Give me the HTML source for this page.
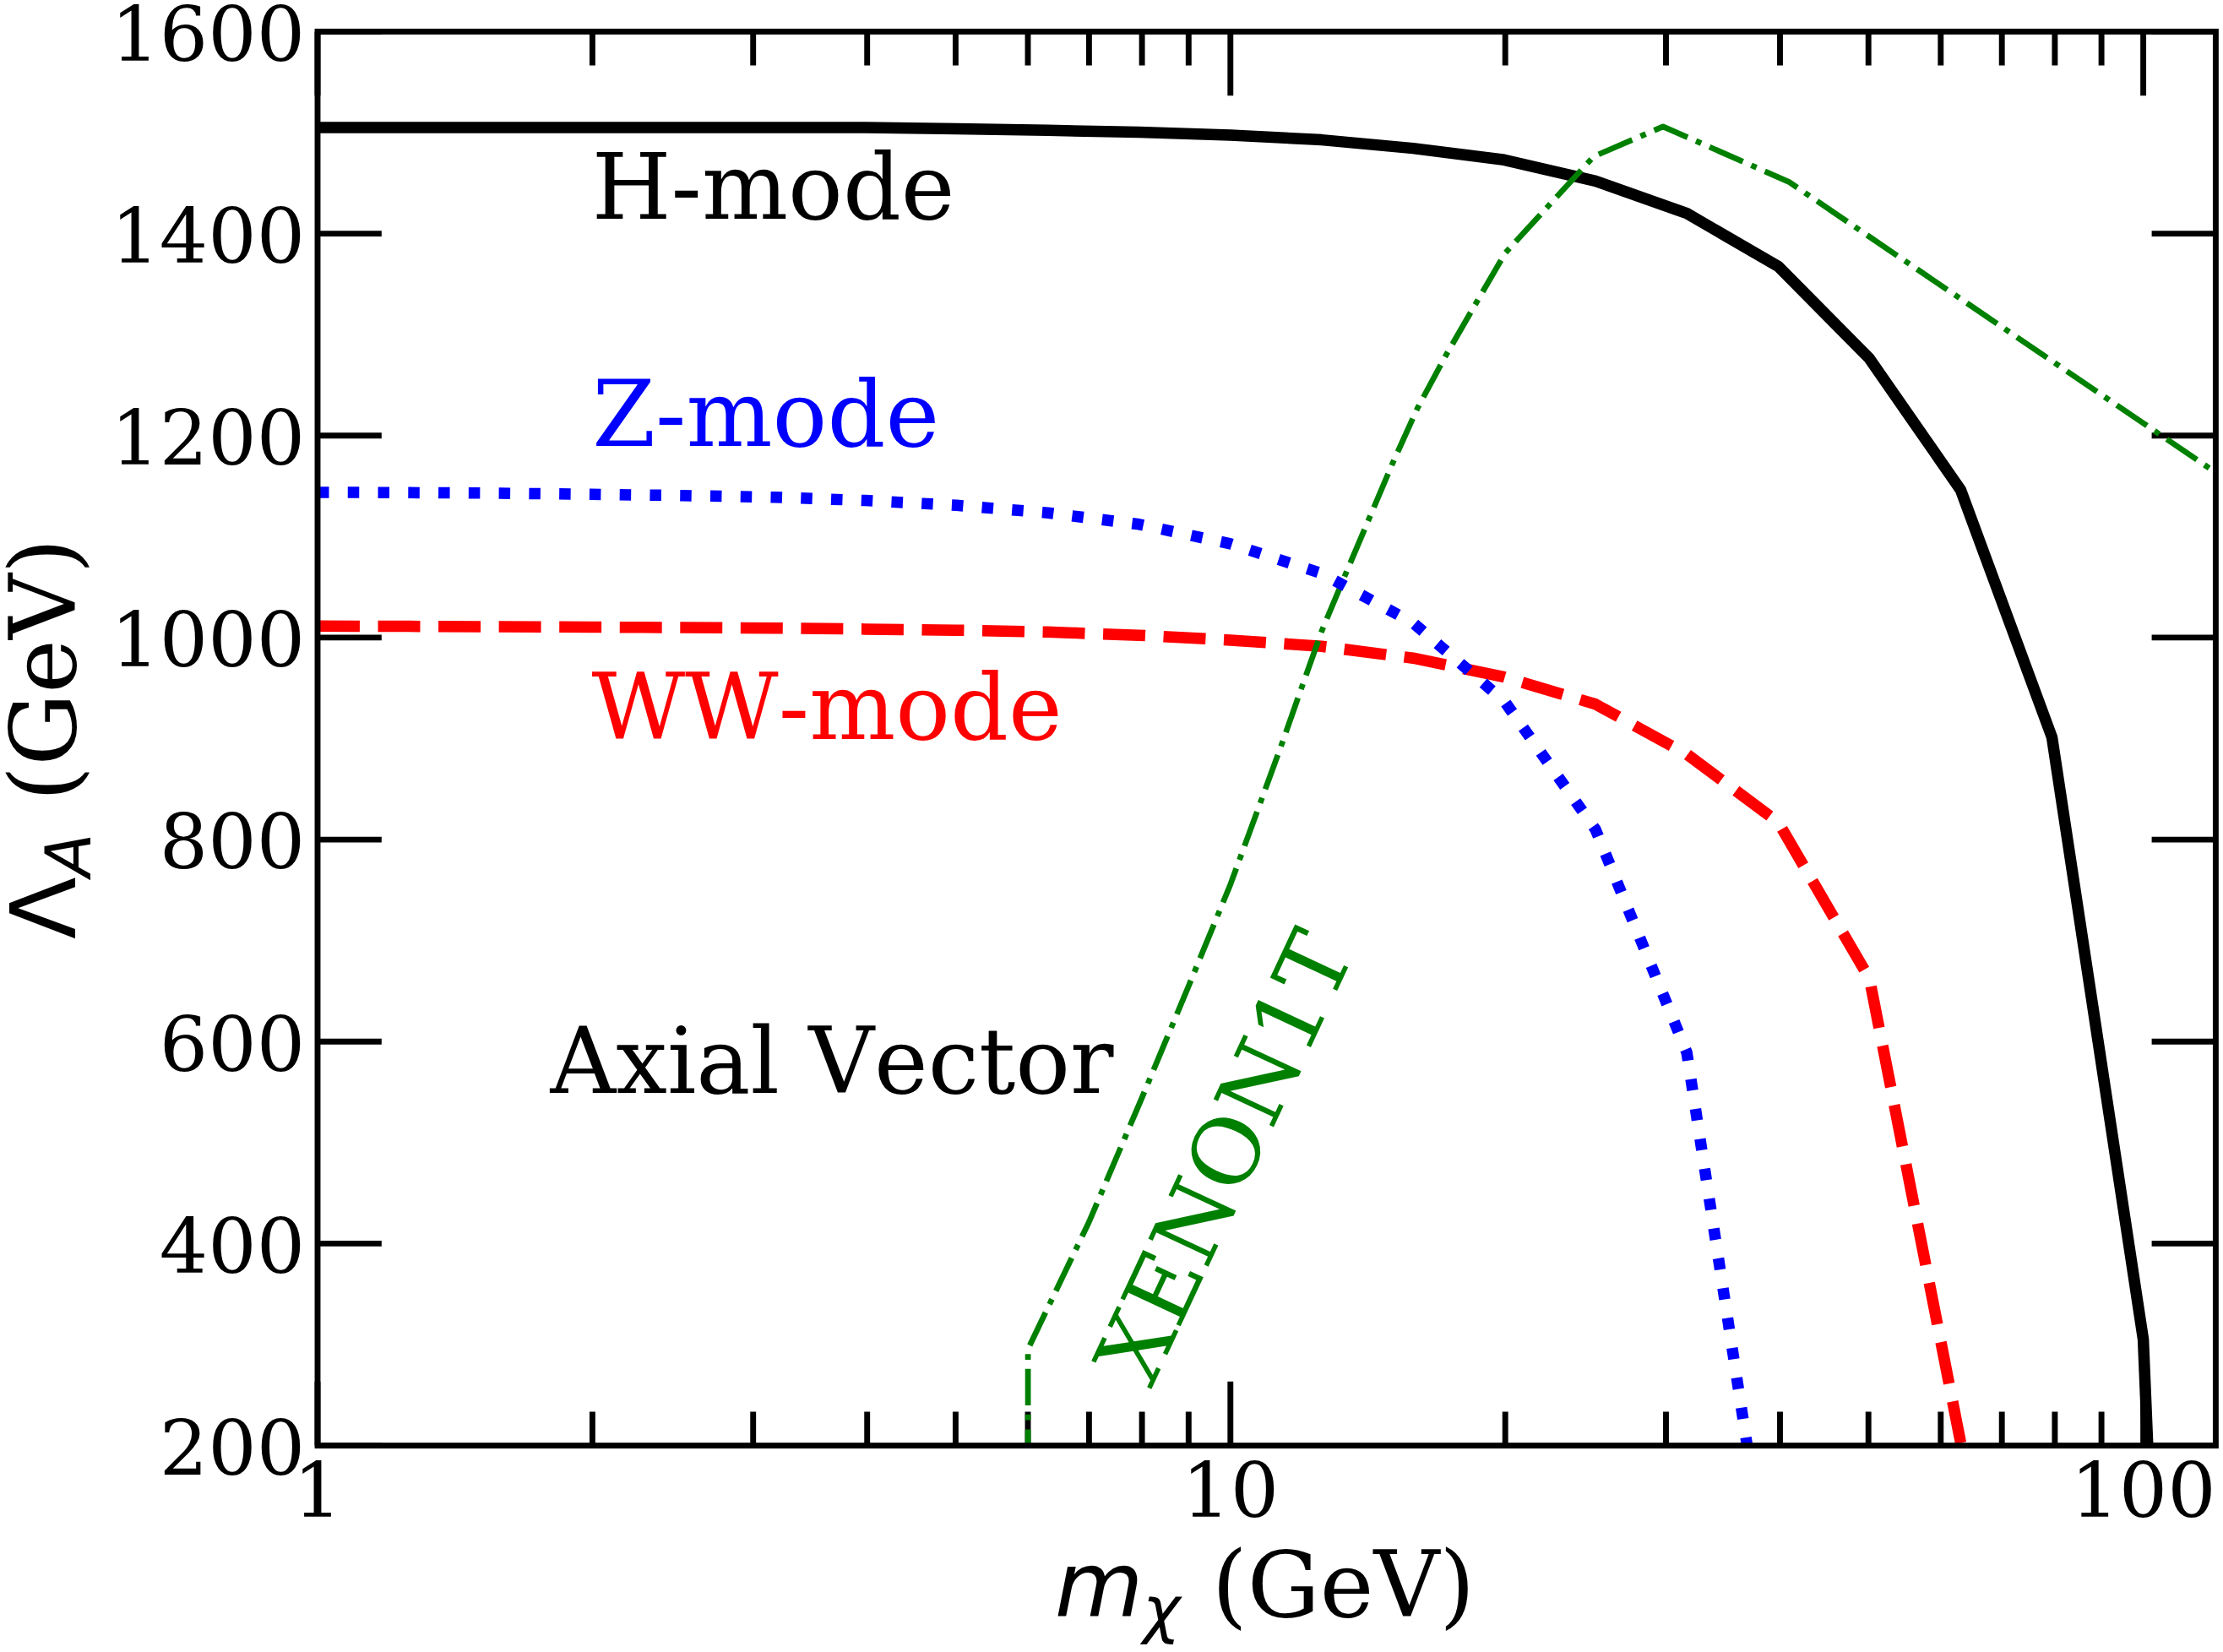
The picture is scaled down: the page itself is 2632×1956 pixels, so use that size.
<!DOCTYPE html>
<html><head><meta charset="utf-8"><title>Axial Vector</title>
<style>html,body{margin:0;padding:0;background:#fff;width:2632px;height:1956px;overflow:hidden}svg{display:block}text{font-family:"DejaVu Serif","Liberation Serif",serif;}text{font-kerning:none}.tk{font-size:90.3px}.lb{font-size:107.7px}.mi{font-family:"DejaVu Sans","Liberation Sans",sans-serif;font-style:italic}.ms{font-family:"DejaVu Sans","Liberation Sans",sans-serif}</style></head><body>
<svg width="2632" height="1956" viewBox="0 0 2632 1956">
<rect width="2632" height="1956" fill="#fff"/>
<defs><clipPath id="ax"><rect x="376.0" y="37.4" width="2247.4" height="1674.2"/></clipPath></defs>
<g stroke="#000" stroke-width="6.90" fill="none">
<path d="M376.0 1711.6V1635.8M376.0 37.4V113.2"/>
<path d="M1456.8 1711.6V1635.8M1456.8 37.4V113.2"/>
<path d="M2537.6 1711.6V1635.8M2537.6 37.4V113.2"/>
<path d="M701.4 1711.6V1671.4M701.4 37.4V77.6"/>
<path d="M891.7 1711.6V1671.4M891.7 37.4V77.6"/>
<path d="M1026.7 1711.6V1671.4M1026.7 37.4V77.6"/>
<path d="M1131.4 1711.6V1671.4M1131.4 37.4V77.6"/>
<path d="M1217.0 1711.6V1671.4M1217.0 37.4V77.6"/>
<path d="M1289.4 1711.6V1671.4M1289.4 37.4V77.6"/>
<path d="M1352.1 1711.6V1671.4M1352.1 37.4V77.6"/>
<path d="M1407.3 1711.6V1671.4M1407.3 37.4V77.6"/>
<path d="M1782.2 1711.6V1671.4M1782.2 37.4V77.6"/>
<path d="M1972.5 1711.6V1671.4M1972.5 37.4V77.6"/>
<path d="M2107.5 1711.6V1671.4M2107.5 37.4V77.6"/>
<path d="M2212.2 1711.6V1671.4M2212.2 37.4V77.6"/>
<path d="M2297.8 1711.6V1671.4M2297.8 37.4V77.6"/>
<path d="M2370.2 1711.6V1671.4M2370.2 37.4V77.6"/>
<path d="M2432.9 1711.6V1671.4M2432.9 37.4V77.6"/>
<path d="M2488.1 1711.6V1671.4M2488.1 37.4V77.6"/>
<path d="M376.0 1711.6H451.8M2623.4 1711.6H2547.6"/>
<path d="M376.0 1472.4H451.8M2623.4 1472.4H2547.6"/>
<path d="M376.0 1233.3H451.8M2623.4 1233.3H2547.6"/>
<path d="M376.0 994.1H451.8M2623.4 994.1H2547.6"/>
<path d="M376.0 754.9H451.8M2623.4 754.9H2547.6"/>
<path d="M376.0 515.7H451.8M2623.4 515.7H2547.6"/>
<path d="M376.0 276.6H451.8M2623.4 276.6H2547.6"/>
<path d="M376.0 37.4H451.8M2623.4 37.4H2547.6"/>
</g>
<text class="tk" x="361.1" y="1745.8" text-anchor="end">200</text>
<text class="tk" x="361.1" y="1506.6" text-anchor="end">400</text>
<text class="tk" x="361.1" y="1267.5" text-anchor="end">600</text>
<text class="tk" x="361.1" y="1028.3" text-anchor="end">800</text>
<text class="tk" x="361.1" y="789.1" text-anchor="end">1000</text>
<text class="tk" x="361.1" y="549.9" text-anchor="end">1200</text>
<text class="tk" x="361.1" y="310.8" text-anchor="end">1400</text>
<text class="tk" x="361.1" y="71.6" text-anchor="end">1600</text>
<text class="tk" x="376.0" y="1795.7" text-anchor="middle">1</text>
<text class="tk" x="1456.8" y="1795.7" text-anchor="middle">10</text>
<text class="tk" x="2537.6" y="1795.7" text-anchor="middle">100</text>
<g clip-path="url(#ax)" fill="none" stroke-linejoin="round">
<polyline points="376.0,151.0 484.1,151.0 592.2,151.0 700.2,151.0 808.3,151.0 916.4,151.0 1024.5,151.0 1132.6,152.5 1240.6,154.3 1348.7,156.5 1456.8,160.0 1564.9,165.6 1673.0,175.6 1781.0,189.3 1889.1,214.4 1997.2,252.7 2105.3,315.3 2213.4,424.6 2321.4,580.1 2429.5,873.0 2537.6,1586.0 2543.0,1716.0" stroke="#000" stroke-width="13.50"/>
<polyline points="376.0,741.3 484.1,741.6 592.2,742.0 700.2,742.5 808.3,743.0 916.4,743.7 1024.5,744.9 1132.6,746.2 1240.6,748.3 1348.7,752.2 1456.8,757.9 1564.9,765.3 1673.0,779.2 1781.0,801.6 1889.1,833.8 1997.2,893.0 2105.3,973.4 2213.4,1158.7 2321.4,1708.0 2325.7,1730.0" stroke="#f00" stroke-width="13.50" stroke-dasharray="49.95 21.60"/>
<polyline points="1217.1,1735.6 1217.1,1597.4 1289.4,1446.7 1352.1,1299.6 1407.3,1167.5 1456.8,1047.2 1492.8,948.9 1517.3,881.9 1540.8,815.0 1565.3,746.2 1593.0,680.0 1620.9,614.3 1648.6,549.0 1678.1,483.6 1712.4,419.9 1748.3,357.8 1782.2,299.5 1886.9,185.3 1969.0,149.8 2118.0,215.3 2623.4,559.5 2660.0,584.4" stroke="#008000" stroke-width="6.75" stroke-dasharray="43.20 10.80 6.75 10.80"/>
<polyline points="376.0,582.9 484.1,583.3 592.2,584.0 700.2,585.3 808.3,586.7 916.4,588.7 1024.5,592.6 1132.6,598.3 1240.6,607.2 1348.7,620.8 1456.8,643.9 1564.9,679.0 1673.0,737.4 1781.0,830.0 1889.1,982.2 1997.2,1246.4 2105.3,1950.8" stroke="#00f" stroke-width="13.50" stroke-dasharray="13.50 22.27"/>
</g>
<rect x="376.0" y="37.4" width="2247.4" height="1674.2" fill="none" stroke="#000" stroke-width="6.90"/>
<text class="lb" x="700.7" y="259.1" fill="#000">H-mode</text>
<text class="lb" x="701.3" y="528.4" fill="#00f">Z-mode</text>
<text class="lb" x="700.4" y="874.5" fill="#f00">WW-mode</text>
<text class="lb" x="651.4" y="1293.8" fill="#000">Axial Vector</text>
<text class="lb" transform="translate(1362.9,1645.3) rotate(-65)" fill="#008000">XENON1T</text>
<text class="lb" x="1248.7" y="1913.8"><tspan class="mi">m</tspan><tspan class="mi" font-size="75.4px" dy="17.3" dx="-0.7">χ</tspan><tspan dy="-17.3" dx="37.1">(GeV)</tspan></text>
<text class="lb" transform="translate(89.1,1112) rotate(-90)"><tspan class="ms">Λ</tspan><tspan class="mi" font-size="75.4px" dy="17.6">A</tspan><tspan dy="-17.6" dx="38">(GeV)</tspan></text>
</svg></body></html>
